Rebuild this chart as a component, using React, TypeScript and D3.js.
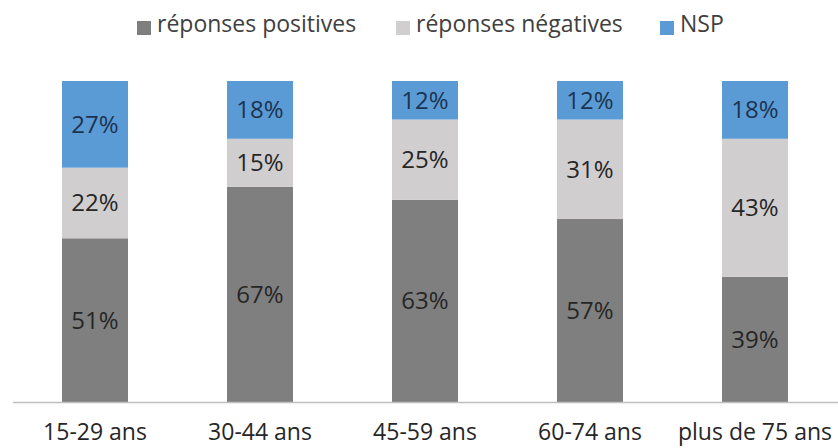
import React from "react";
import * as d3 from "d3";

const categories = ["15-29 ans", "30-44 ans", "45-59 ans", "60-74 ans", "plus de 75 ans"];
const seriesNames = ["réponses positives", "réponses négatives", "NSP"];
const positives = [51, 67, 63, 57, 39];
const negatives = [22, 15, 25, 31, 43];
const nsp = [27, 18, 12, 12, 18];

const W = 838;
const H = 448;
const colors = ["#7f7f7f", "#d0cece", "#5b9bd5"];
const labelColors = ["#262626", "#262626", "#1c3350"];
const FONT = "'Open Sans', 'DejaVu Sans', sans-serif";

export default function App() {
  const x = d3.scaleBand<string>().domain(categories).range([12.5, 837.5]).paddingInner(0.6).paddingOuter(0.3);
  const y = d3.scaleLinear().domain([0, 100]).range([402, 81]);

  const rows = categories.map((c, i) => ({ cat: c, pos: positives[i], neg: negatives[i], nsp: nsp[i] }));
  const stack = d3.stack<any>().keys(["pos", "neg", "nsp"]);
  const layers = stack(rows);

  const legendItems = [
    { name: seriesNames[0], color: colors[0], sx: 137 },
    { name: seriesNames[1], color: colors[1], sx: 396 },
    { name: seriesNames[2], color: colors[2], sx: 660 },
  ];

  return (
    <div style={{ position: "absolute", left: 0, top: 0 }}>
      <svg width={W} height={H} style={{ display: "block", background: "#fff" }}>
        <rect x={0} y={0} width={W} height={H} fill="#fff" />
        {legendItems.map((l) => (
          <g key={l.name}>
            <rect x={l.sx} y={21} width={14} height={14} fill={l.color} />
            <text x={l.sx + 20} y={32} fontFamily={FONT} fontSize={23} fill="#404040">
              {l.name}
            </text>
          </g>
        ))}
        {layers.map((layer, li) => (
          <g key={li}>
            {layer.map((d, i) => {
              const x0 = x(categories[i])!;
              const top = y(d[1]);
              const bot = y(d[0]);
              return (
                <g key={i}>
                  <rect x={x0} y={top} width={x.bandwidth()} height={bot - top} fill={colors[li]} />
                  <text
                    x={x0 + x.bandwidth() / 2}
                    y={(top + bot) / 2}
                    dy="0.35em"
                    textAnchor="middle"
                    fontFamily={FONT}
                    fontSize={24}
                    fill={labelColors[li]}
                  >
                    {`${d[1] - d[0]}%`}
                  </text>
                </g>
              );
            })}
          </g>
        ))}
        <line x1={13} x2={838} y1={402.5} y2={402.5} stroke="#bfbfbf" strokeWidth={1.5} />
        {categories.map((c) => (
          <text
            key={c}
            x={x(c)! + x.bandwidth() / 2}
            y={440}
            textAnchor="middle"
            fontFamily={FONT}
            fontSize={23}
            fill="#262626"
          >
            {c}
          </text>
        ))}
      </svg>
    </div>
  );
}
